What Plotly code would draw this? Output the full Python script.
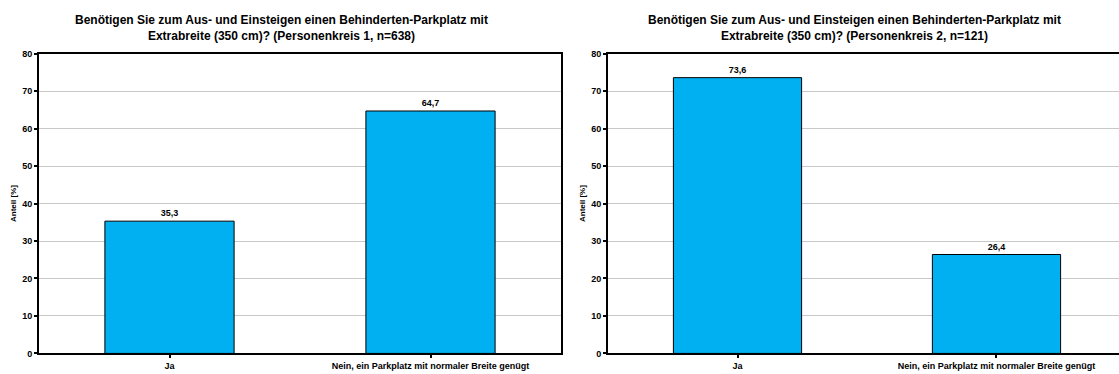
import plotly.graph_objects as go

categories = ["Ja", "Nein, ein Parkplatz mit normaler Breite genügt"]
kreis1_values = [35.3, 64.7]
kreis2_values = [73.6, 26.4]
titles = [
    "Benötigen Sie zum Aus- und Einsteigen einen Behinderten-Parkplatz mit<br>Extrabreite (350 cm)? (Personenkreis 1, n=638)",
    "Benötigen Sie zum Aus- und Einsteigen einen Behinderten-Parkplatz mit<br>Extrabreite (350 cm)? (Personenkreis 2, n=121)",
]
y_ticks = [0, 10, 20, 30, 40, 50, 60, 70, 80]

W, H = 1119, 374
FONT = "Liberation Sans, Arial, sans-serif"
BAR_COLOR = "#00B0F0"

def px_x(p):
    return p / W

def px_y(p):
    return 1 - p / H

fig = go.Figure()

for i, vals in enumerate([kreis1_values, kreis2_values]):
    fig.add_trace(go.Bar(
        x=list(range(len(categories))),
        y=vals,
        width=0.495,
        marker=dict(color=BAR_COLOR, line=dict(color="black", width=1)),
        text=[f"{v:.1f}".replace(".", ",") for v in vals],
        textposition="outside",
        textfont=dict(family=FONT, size=9, color="black", weight="bold"),
        cliponaxis=False,
        xaxis="x" if i == 0 else "x2",
        yaxis="y" if i == 0 else "y2",
        showlegend=False,
        hoverinfo="skip",
    ))

y_dom = [px_y(358), px_y(50)]
axis_font = dict(family=FONT, size=9, color="black", weight="bold")
x_font = dict(family=FONT, size=9, color="black", weight="bold")

common_x = dict(
    tickmode="array",
    tickvals=list(range(len(categories))),
    ticktext=categories,
    tickson="boundaries",
    ticks="outside",
    ticklen=3,
    tickwidth=2,
    tickcolor="black",
    showline=True,
    linecolor="black",
    linewidth=2,
    mirror=True,
    showgrid=False,
    tickfont=x_font,
    zeroline=False,
)
common_y = dict(
    range=[0, 80],
    tickvals=y_ticks,
    ticks="outside",
    ticklen=3,
    tickwidth=2,
    tickcolor="black",
    showline=True,
    linecolor="black",
    linewidth=2,
    showgrid=True,
    gridcolor="#c8c8c8",
    gridwidth=1,
    tickfont=axis_font,
    zeroline=False,
    title=dict(text="Anteil [%]", font=dict(family=FONT, size=8, color="black", weight="bold"), standoff=4),
)

fig.update_layout(
    width=W,
    height=H,
    margin=dict(l=0, r=0, t=0, b=0),
    paper_bgcolor="white",
    plot_bgcolor="white",
    separators=",.",
    xaxis=dict(domain=[px_x(39), px_x(561)], range=[-0.5, 1.5], anchor="y", **common_x),
    yaxis=dict(domain=y_dom, anchor="x", mirror=True, **common_y),
    xaxis2=dict(domain=[px_x(608), 1.0], range=[-0.5, 1.473], anchor="y2", **common_x),
    yaxis2=dict(domain=y_dom, anchor="x2", mirror=False, **common_y),
)

for title, xc in zip(titles, [281, 854]):
    fig.add_annotation(
        text=title,
        x=px_x(xc), y=px_y(24),
        xref="paper", yref="paper",
        xanchor="center", yanchor="middle",
        showarrow=False,
        font=dict(family=FONT, size=12, color="black", weight="bold"),
    )

# drop the default page margin so the figure sits at the window's corner
fig.write_html(
    "out.html",
    config={"displayModeBar": False},
    post_script="document.body.style.margin='0';document.body.style.overflow='hidden';",
)
